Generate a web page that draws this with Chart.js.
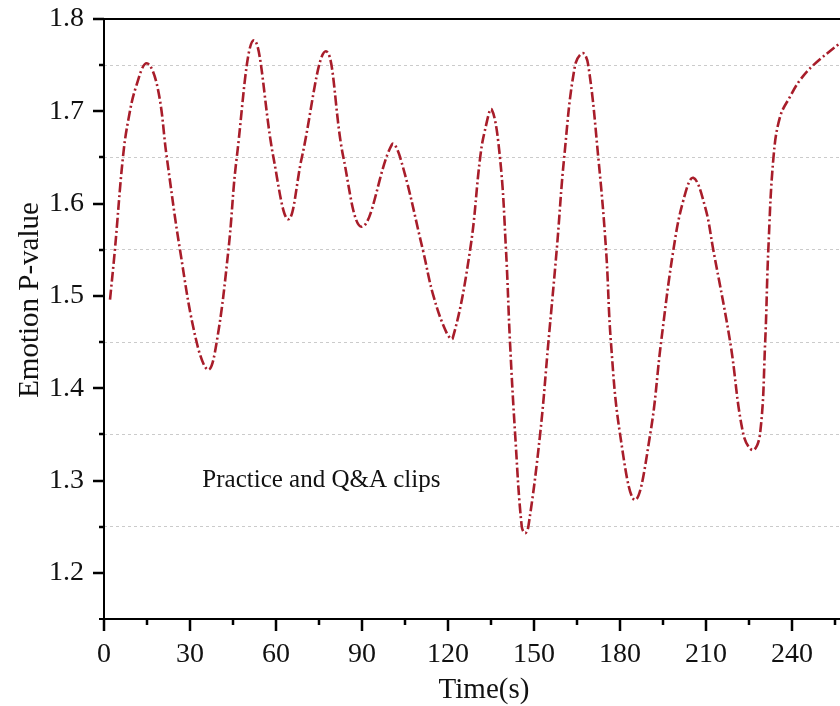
<!DOCTYPE html>
<html lang="en">
<head>
  <meta charset="UTF-8" />
  <title>Emotion P-value over time</title>
  <script src="https://cdn.jsdelivr.net/npm/chart.js"></script>
  <style>
    body { margin: 0; background: #fff; overflow: hidden; }
    canvas { display: block; }
  </style>
</head>
<body>
  <canvas id="chart" width="840" height="706"></canvas>
  <script>
    // values
    const timeS = [
      2.1, 3.8, 6.6, 8.5, 11.2, 14.9, 18.6, 21.9, 26.5, 32.3,
      36.4, 39.3, 43.4, 46.3, 52.3, 59.1, 64.3, 69.0, 77.4, 83.5,
      90.1, 100.4, 103.3, 111.2, 114.9, 119.5, 121.6, 127.7, 131.2, 132.9,
      135.2, 138.1, 140.2, 141.6, 143.4, 145.7, 146.9, 148.0, 152.1, 155.0,
      157.9, 160.5, 164.3, 167.0, 168.9, 172.4, 175.1, 176.8, 180.0, 185.2,
      190.5, 194.3, 198.6, 202.1, 205.5, 209.6, 212.5, 218.4, 223.0, 226.3,
      228.8, 230.6, 231.7, 233.5, 235.8, 239.3, 242.8, 247.4, 256.7
    ];
    const pValue = [
      1.496, 1.55, 1.65, 1.691, 1.727, 1.752, 1.727, 1.65, 1.55, 1.45,
      1.420, 1.45, 1.55, 1.65, 1.777, 1.65, 1.583, 1.65, 1.765, 1.65,
      1.575, 1.664, 1.65, 1.55, 1.50, 1.46, 1.454, 1.55, 1.65, 1.680,
      1.702, 1.65, 1.55, 1.45, 1.35, 1.25, 1.243, 1.25, 1.35, 1.45,
      1.55, 1.65, 1.75, 1.763, 1.75, 1.65, 1.55, 1.45, 1.35, 1.279,
      1.35, 1.45, 1.55, 1.604, 1.628, 1.597, 1.55, 1.45, 1.35, 1.333,
      1.35, 1.45, 1.55, 1.65, 1.694, 1.716, 1.734, 1.75, 1.774
    ];

    const xMajorTicks = [0, 30, 60, 90, 120, 150, 180, 210, 240];
    const xMinorTicks = [15, 45, 75, 105, 135, 165, 195, 225, 255];
    const yMajorTicks = [1.2, 1.3, 1.4, 1.5, 1.6, 1.7, 1.8];
    const yMinorTicks = [1.25, 1.35, 1.45, 1.55, 1.65, 1.75];

    const xTitle = 'Time(s)';
    const yTitle = 'Emotion P-value';
    const noteText = 'Practice and Q&A clips';
    const noteAt = { x: 34.3, y: 1.293 };

    const serif = "'Liberation Serif', 'Times New Roman', serif";

    // axis frame, tick marks, titles and the note
    const framePlugin = {
      id: 'frame',
      afterDraw(chart) {
        const { ctx, chartArea: a, scales: { x, y } } = chart;
        ctx.save();
        ctx.strokeStyle = '#000';
        ctx.lineWidth = 2;
        ctx.beginPath();
        ctx.moveTo(a.left, a.top - 1);
        ctx.lineTo(a.left, a.bottom + 1);
        ctx.moveTo(a.left - 5, a.bottom);
        ctx.lineTo(a.right, a.bottom);
        ctx.moveTo(a.left, a.top);
        ctx.lineTo(a.right, a.top);
        ctx.stroke();

        ctx.lineWidth = 2.5;
        ctx.beginPath();
        yMajorTicks.forEach(v => {
          const py = Math.round(y.getPixelForValue(v));
          ctx.moveTo(a.left - 11, py); ctx.lineTo(a.left, py);
        });
        yMinorTicks.forEach(v => {
          const py = Math.round(y.getPixelForValue(v));
          ctx.moveTo(a.left - 5, py); ctx.lineTo(a.left, py);
        });
        xMajorTicks.forEach(v => {
          const px = Math.round(x.getPixelForValue(v));
          ctx.moveTo(px, a.bottom); ctx.lineTo(px, a.bottom + 12);
        });
        xMinorTicks.forEach(v => {
          const px = Math.round(x.getPixelForValue(v));
          ctx.moveTo(px, a.bottom); ctx.lineTo(px, a.bottom + 6);
        });
        ctx.stroke();

        ctx.fillStyle = '#111';
        ctx.font = '25px ' + serif;
        ctx.textBaseline = 'alphabetic';
        ctx.textAlign = 'left';
        ctx.fillText(noteText, x.getPixelForValue(noteAt.x), y.getPixelForValue(noteAt.y));

        ctx.font = '29px ' + serif;
        ctx.textAlign = 'center';
        ctx.textBaseline = 'middle';
        ctx.fillText(xTitle, 484, 690);
        ctx.translate(30, 300);
        ctx.rotate(-Math.PI / 2);
        ctx.fillText(yTitle, 0, 0);
        ctx.restore();
      }
    };

    new Chart(document.getElementById('chart'), {
      type: 'line',
      data: {
        datasets: [{
          data: timeS.map((t, i) => ({ x: t, y: pValue[i] })),
          borderColor: '#a81d2a',
          borderWidth: 2.6,
          borderDash: [10, 3, 2, 3],
          pointRadius: 0,
          tension: 0.4,
          fill: false
        }]
      },
      options: {
        responsive: false,
        animation: false,
        layout: { padding: { top: 19, right: 0, left: 0, bottom: 0 } },
        plugins: { legend: { display: false }, tooltip: { enabled: false } },
        scales: {
          x: {
            type: 'linear',
            min: 0,
            max: 256.7,
            afterBuildTicks: s => { s.ticks = xMajorTicks.map(value => ({ value })); },
            afterFit: s => { s.height = 87; s.paddingLeft = 0; s.paddingRight = 0; },
            grid: { display: false },
            border: { display: false },
            ticks: {
              color: '#111',
              padding: 11,
              maxRotation: 0,
              autoSkip: false,
              font: { family: serif, size: 28 }
            }
          },
          y: {
            min: 1.15,
            max: 1.8,
            afterBuildTicks: s => {
              s.ticks = [...yMajorTicks, ...yMinorTicks].sort((p, q) => p - q).map(value => ({ value }));
            },
            afterFit: s => { s.width = 104; s.paddingTop = 0; s.paddingBottom = 0; },
            grid: {
              drawTicks: false,
              lineWidth: 1,
              color: c => (c.tick && yMinorTicks.includes(c.tick.value)) ? '#cbcbcb' : 'rgba(0,0,0,0)'
            },
            border: { display: false, dash: [3, 3] },
            ticks: {
              color: '#111',
              padding: 20,
              autoSkip: false,
              font: { family: serif, size: 28 },
              callback: v => yMajorTicks.includes(v) ? v.toFixed(1) : ''
            }
          }
        }
      },
      plugins: [framePlugin]
    });
  </script>
</body>
</html>
